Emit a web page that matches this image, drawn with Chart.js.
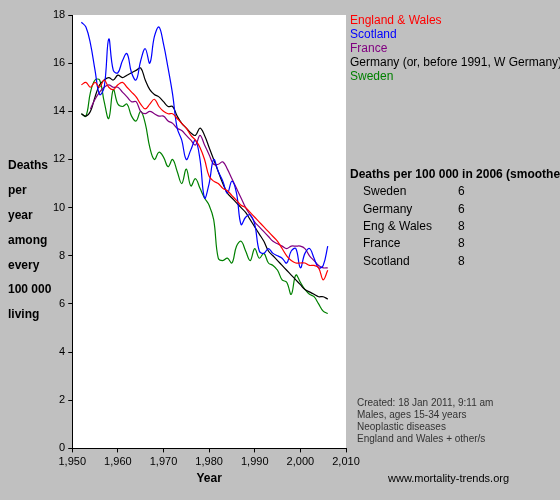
<!DOCTYPE html>
<html>
<head>
<meta charset="utf-8">
<script src="https://cdn.jsdelivr.net/npm/chart.js@4"></script>
<style>
  body { margin: 0; background: #c0c0c0; }
</style>
</head>
<body>
<canvas id="chart" width="560" height="500"></canvas>
<script>
// years 1952..2006
const years = [];
for (let y = 1952; y <= 2006; y++) years.push(y);

const englandWales = [15.1, 15.2, 15.0, 15.2, 15.0, 15.3, 15.0, 14.9, 15.1, 15.2,
  15.0, 14.8, 14.6, 14.3, 14.1, 14.3, 14.5, 14.2, 14.0, 13.9,
  13.9, 13.7, 13.5, 13.3, 13.0, 12.8, 12.5, 12.0, 11.3, 11.1,
  11.0, 10.8, 10.7, 10.5, 10.3, 10.1, 10.0, 9.8, 9.6, 9.4,
  9.2, 9.0, 8.8, 8.6, 8.3, 8.0, 7.8, 7.7, 7.7, 7.7,
  7.6, 7.6, 7.5, 7.0, 7.4];
const scotland = [17.7, 17.5, 16.8, 15.7, 14.7, 15.0, 17.0, 15.7, 15.6, 16.1,
  16.4, 15.6, 15.3, 16.1, 16.6, 16.0, 17.1, 17.5, 16.8, 15.8,
  14.7, 13.3, 12.8, 12.0, 12.4, 12.8, 12.0, 10.4, 11.0, 12.0,
  11.5, 11.1, 10.6, 11.1, 10.6, 9.3, 9.6, 9.7, 9.3, 8.2,
  8.1, 8.3, 8.1, 8.0, 7.9, 7.7, 8.2, 8.3, 7.5, 8.1,
  8.3, 7.9, 7.5, 7.6, 8.4];
const france = [null, null, 14.1, 14.5, 14.8, 15.0, 15.1, 15.0, 15.0, 14.8,
  14.6, 14.4, 14.4, 14.0, 13.9, 14.0, 13.9, 13.8, 13.8, 13.6,
  13.5, 13.3, 13.2, 13.0, 12.8, 12.6, 13.0, 12.6, 12.2, 11.8,
  11.8, 11.9, 11.6, 11.2, 10.8, 10.4, 10.0, 9.7, 9.4, 9.2,
  9.0, 8.8, 8.6, 8.5, 8.4, 8.3, 8.4, 8.4, 8.4, 8.3,
  8.0, 7.8, 7.6, 7.5, 7.5];
const germany = [13.9, 13.8, 14.0, 14.6, 15.1, 15.3, 15.4, 15.3, 15.5, 15.4,
  15.5, 15.6, 15.7, 15.8, 15.3, 14.9, 14.7, 14.6, 14.4, 14.2,
  14.2, 13.8, 13.5, 13.3, 13.1, 13.0, 13.3, 13.0, 12.5, 12.0,
  11.5, 11.0, 10.6, 10.4, 10.2, 10.0, 9.8, 9.5, 9.2, 8.9,
  8.6, 8.2, 8.0, 7.8, 7.6, 7.4, 7.2, 7.0, 6.8, 6.6,
  6.5, 6.4, 6.3, 6.3, 6.2];
const sweden = [13.9, 13.8, 14.8, 15.3, 15.3, 14.4, 13.7, 14.9, 14.3, 14.2,
  14.3, 13.8, 13.6, 14.0, 13.5, 12.5, 12.0, 12.3, 12.1, 11.7,
  12.0, 11.5, 11.0, 11.6, 10.9, 11.2, 10.8, 10.4, 10.1, 9.5,
  7.9, 7.8, 7.9, 7.7, 8.4, 8.6, 8.2, 7.8, 8.3, 7.9,
  8.1, 7.7, 7.6, 7.4, 7.0, 6.9, 6.4, 7.2, 6.9, 6.6,
  6.4, 6.3, 6.0, 5.7, 5.6];

const seriesNames = ['England & Wales', 'Scotland', 'France', 'Germany (or, before 1991, W Germany)', 'Sweden'];
const seriesColors = ['#ff0000', '#0000ff', '#800080', '#000000', '#008000'];
const seriesData = [englandWales, scotland, france, germany, sweden];

const table2006Names = ['Sweden', 'Germany', 'Eng & Wales', 'France', 'Scotland'];
const table2006Values = ['6', '6', '8', '8', '8'];
const yTitleLines = ['Deaths', 'per', 'year', 'among', 'every', '100 000', 'living'];
const notes = ['Created: 18 Jan 2011, 9:11 am', 'Males, ages 15-34 years', 'Neoplastic diseases', 'England and Wales + other/s'];

const textPlugin = {
  id: 'texts',
  beforeDraw(chart) {
    const c = chart.ctx, a = chart.chartArea;
    c.save();
    c.fillStyle = '#ffffff';
    c.fillRect(a.left, a.top, a.right - a.left, a.bottom - a.top);
    c.restore();
  },
  afterDraw(chart) {
    const c = chart.ctx;
    c.save();
    c.textBaseline = 'middle';
    c.font = '12px "Liberation Sans", Arial, sans-serif';
    seriesNames.forEach((n, i) => {
      c.fillStyle = seriesColors[i];
      c.fillText(n, 350, 21 + i * 14);
    });
    c.fillStyle = '#000';
    c.font = 'bold 12px "Liberation Sans", Arial, sans-serif';
    c.fillText('Deaths per 100 000 in 2006 (smoothed)', 350, 175);
    yTitleLines.forEach((t, i) => c.fillText(t, 8, 166 + i * 24.8));
    c.font = '12px "Liberation Sans", Arial, sans-serif';
    table2006Names.forEach((n, i) => {
      c.fillText(n, 363, 192 + i * 17.3);
      c.fillText(table2006Values[i], 458, 192 + i * 17.3);
    });
    c.font = '10px "Liberation Sans", Arial, sans-serif';
    c.fillStyle = '#333';
    notes.forEach((t, i) => c.fillText(t, 357, 403 + i * 12));
    c.font = '11px "Liberation Sans", Arial, sans-serif';
    c.fillStyle = '#000';
    c.fillText('www.mortality-trends.org', 388, 479);
    c.restore();
  }
};

new Chart(document.getElementById('chart'), {
  type: 'line',
  data: {
    labels: years,
    datasets: seriesData.map((d, i) => ({
      label: seriesNames[i],
      data: d.map((v, j) => ({ x: years[j], y: v })),
      borderColor: seriesColors[i],
      borderWidth: 1.2,
      pointRadius: 0,
      tension: 0.4,
      spanGaps: false
    }))
  },
  options: {
    responsive: false,
    animation: false,
    devicePixelRatio: 1,
    layout: { padding: { left: 50, right: 214, top: 15, bottom: 14 } },
    plugins: { legend: { display: false }, tooltip: { enabled: false } },
    scales: {
      x: {
        type: 'linear', min: 1950, max: 2010,
        border: { color: '#000' },
        grid: { drawOnChartArea: false, color: '#000', tickLength: 4 },
        ticks: { stepSize: 10, color: '#000', font: { size: 11, family: 'Liberation Sans' } },
        title: { display: true, text: 'Year', color: '#000', font: { size: 12, weight: 'bold', family: 'Liberation Sans' }, padding: 0 }
      },
      y: {
        min: 0, max: 18,
        border: { color: '#000' },
        grid: { drawOnChartArea: false, color: '#000', tickLength: 4 },
        ticks: { stepSize: 2, color: '#000', font: { size: 11, family: 'Liberation Sans' } }
      }
    }
  },
  plugins: [textPlugin]
});
</script>
</body>
</html>
